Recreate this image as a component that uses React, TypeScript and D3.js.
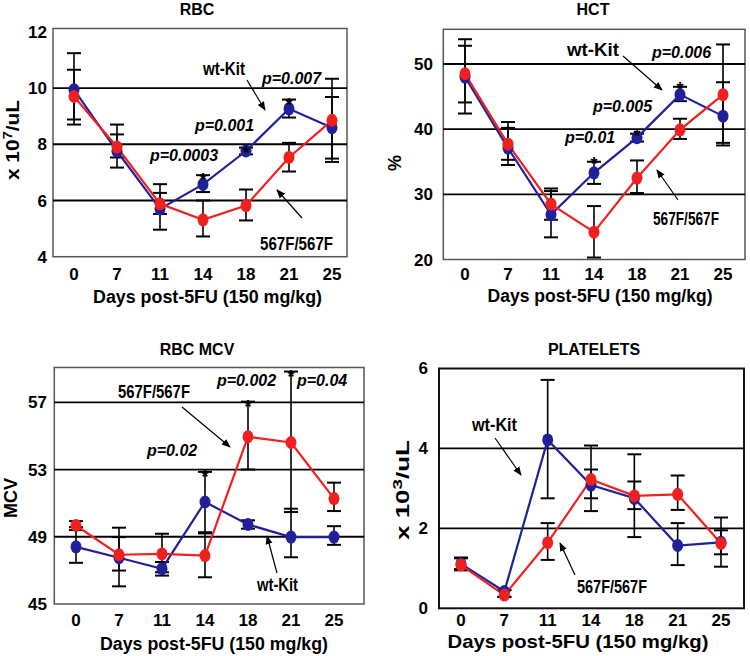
import React from "react";
import * as d3 from "d3";

// ---------- data ----------
const days = ["0", "7", "11", "14", "18", "21", "25"];

const rbcWt = [9.94, 7.75, 5.7, 6.57, 7.76, 9.26, 8.59];
const rbcWtHi = [11.24, 8.7, 6.58, 6.9, 7.88, 9.59, 9.68];
const rbcWtLo = [8.7, 7.17, 4.96, 6.3, 7.64, 8.95, 7.49];
const rbcMut = [9.7, 7.9, 5.88, 5.31, 5.82, 7.53, 8.85];
const rbcMutHi = [10.65, 8.35, 6.27, 6.0, 6.39, 8.05, 10.33];
const rbcMutLo = [8.88, 7.53, 5.52, 4.72, 5.29, 7.03, 7.37];

const hctWt = [48.0, 37.1, 26.9, 33.3, 38.7, 45.3, 42.0];
const hctWtHi = [53.8, 40.2, 30.5, 35.0, 39.3, 46.5, 47.2];
const hctWtLo = [42.4, 34.5, 23.4, 31.6, 38.1, 44.3, 37.5];
const hctMut = [48.5, 37.7, 28.5, 24.2, 32.5, 39.9, 45.3];
const hctMutHi = [52.8, 41.1, 30.9, 28.2, 35.2, 41.6, 53.0];
const hctMutLo = [44.1, 35.3, 26.1, 20.3, 30.2, 38.5, 37.9];

const mcvWt = [48.4, 47.75, 47.1, 51.07, 49.73, 48.98, 48.98];
const mcvWtHi = [49.57, 49.54, 47.5, 52.86, 49.98, 50.67, 49.63];
const mcvWtLo = [47.45, 46.05, 46.69, 49.27, 49.48, 47.78, 48.52];
const mcvMut = [49.67, 47.93, 47.98, 47.88, 54.95, 54.61, 51.27];
const mcvMutHi = [49.93, 48.98, 49.18, 49.2, 57.04, 58.83, 52.22];
const mcvMutLo = [49.4, 46.99, 46.89, 46.59, 53.0, 50.47, 50.53];

const pltWt = [1.11, 0.42, 4.21, 3.08, 2.75, 1.57, 1.65];
const pltWtHi = [1.27, 0.46, 5.71, 3.47, 3.85, 2.13, 1.95];
const pltWtLo = [0.98, 0.29, 2.75, 2.75, 1.78, 1.08, 1.35];
const pltMut = [1.08, 0.33, 1.64, 3.22, 2.81, 2.85, 1.62];
const pltMutHi = [1.25, 0.45, 2.13, 4.07, 3.17, 3.32, 2.27];
const pltMutLo = [0.95, 0.28, 1.21, 2.43, 2.48, 2.46, 1.04];

const rbcTicks = [4, 6, 8, 10, 12];
const hctTicks = [20, 30, 40, 50];
const mcvTicks = [45, 49, 53, 57];
const pltTicks = [0, 2, 4, 6];

const rbcGrid = [6, 8, 10];
const hctGrid = [30, 40, 50];
const mcvGrid = [49, 53, 57];
const pltGrid = [2, 4];

// significance markers: day index and p-value text
const rbcStars = [3, 4, 5];
const rbcP = ["p=0.0003", "p=0.001", "p=0.007"];
const hctStars = [3, 4, 5];
const hctP = ["p=0.01", "p=0.005", "p=0.006"];
const mcvStars = [3, 4, 5];
const mcvP = ["p=0.02", "p=0.002", "p=0.04"];

const seriesNames = ["wt-Kit", "567F/567F"];
const xLabel = "Days post-5FU (150 mg/kg)";

// ---------- styles ----------
const FONT = "'Liberation Sans', Arial, Helvetica, sans-serif";
const BLUE = "#20209a";
const RED = "#ee2020";

type Lbl = { text: string; x: number; y: number; w?: number };
type Arr = { x1: number; y1: number; x2: number; y2: number };

interface PanelCfg {
  title: string;
  titleX: number;
  titleY: number;
  box: [number, number, number, number];
  yDomain: [number, number];
  yRange: [number, number];
  xRange: [number, number];
  ticks: number[];
  grid: number[];
  tickX: number;
  xTickY: number;
  xLabelX: number;
  xLabelY: number;
  xLabelLen: number;
  xLabelSize: number;
  yLabel: React.ReactNode;
  yLabelX: number;
  yLabelY: number;
  yLabelLen: number;
  yLabelSize: number;
  boxStroke: string;
  boxWidth: number;
  wt: number[];
  wtHi: number[];
  wtLo: number[];
  mut: number[];
  mutHi: number[];
  mutLo: number[];
  stars: number[];
  starOff: number;
  pvals: Lbl[];
  labels: Lbl[];
  arrows: Arr[];
}

const panels: PanelCfg[] = [
  {
    title: "RBC",
    titleX: 197,
    titleY: 15,
    box: [53, 28.5, 347, 256.7],
    yDomain: [4, 12],
    yRange: [256.7, 31.8],
    xRange: [74, 332],
    ticks: rbcTicks,
    grid: rbcGrid,
    tickX: 47,
    xTickY: 280,
    xLabelX: 207.5,
    xLabelY: 303,
    xLabelLen: 229,
    xLabelSize: 18,
    yLabel: (
      <>
        <tspan>x 10</tspan>
        <tspan dy={-7} fontSize={13}>7</tspan>
        <tspan dy={7}>/uL</tspan>
      </>
    ),
    yLabelX: 19,
    yLabelY: 140,
    yLabelLen: 80,
    yLabelSize: 18,
    boxStroke: "#555",
    boxWidth: 1.5,
    wt: rbcWt,
    wtHi: rbcWtHi,
    wtLo: rbcWtLo,
    mut: rbcMut,
    mutHi: rbcMutHi,
    mutLo: rbcMutLo,
    stars: rbcStars,
    starOff: 2,
    pvals: [
      { text: rbcP[0], x: 150, y: 161 },
      { text: rbcP[1], x: 195, y: 131 },
      { text: rbcP[2], x: 262, y: 84 },
    ],
    labels: [
      { text: seriesNames[0], x: 203, y: 75, w: 42 },
      { text: seriesNames[1], x: 260, y: 250, w: 73 },
    ],
    arrows: [
      { x1: 247, y1: 80, x2: 265, y2: 110 },
      { x1: 302, y1: 218, x2: 277, y2: 190 },
    ],
  },
  {
    title: "HCT",
    titleX: 593,
    titleY: 15,
    box: [443.3, 29.3, 745, 259.5],
    yDomain: [20, 50],
    yRange: [259.5, 64],
    xRange: [465, 723],
    ticks: hctTicks,
    grid: hctGrid,
    tickX: 433,
    xTickY: 280,
    xLabelX: 600,
    xLabelY: 302,
    xLabelLen: 225,
    xLabelSize: 18,
    yLabel: <tspan>%</tspan>,
    yLabelX: 401,
    yLabelY: 163,
    yLabelLen: 0,
    yLabelSize: 18,
    boxStroke: "#555",
    boxWidth: 1.5,
    wt: hctWt,
    wtHi: hctWtHi,
    wtLo: hctWtLo,
    mut: hctMut,
    mutHi: hctMutHi,
    mutLo: hctMutLo,
    stars: hctStars,
    starOff: -1,
    pvals: [
      { text: hctP[0], x: 565, y: 143 },
      { text: hctP[1], x: 593, y: 112 },
      { text: hctP[2], x: 652, y: 58 },
    ],
    labels: [
      { text: seriesNames[0], x: 567, y: 56, w: 52 },
      { text: seriesNames[1], x: 653, y: 225, w: 66 },
    ],
    arrows: [
      { x1: 623, y1: 56, x2: 662, y2: 90 },
      { x1: 678, y1: 200, x2: 657, y2: 170 },
    ],
  },
  {
    title: "RBC MCV",
    titleX: 197,
    titleY: 355,
    box: [54.3, 367.5, 364, 604],
    yDomain: [45, 57],
    yRange: [604, 402.3],
    xRange: [76, 334],
    ticks: mcvTicks,
    grid: mcvGrid,
    tickX: 47,
    xTickY: 626,
    xLabelX: 214,
    xLabelY: 650,
    xLabelLen: 228,
    xLabelSize: 18,
    yLabel: <tspan>MCV</tspan>,
    yLabelX: 17,
    yLabelY: 498,
    yLabelLen: 40,
    yLabelSize: 18,
    boxStroke: "#555",
    boxWidth: 1.5,
    wt: mcvWt,
    wtHi: mcvWtHi,
    wtLo: mcvWtLo,
    mut: mcvMut,
    mutHi: mcvMutHi,
    mutLo: mcvMutLo,
    stars: mcvStars,
    starOff: 2.5,
    pvals: [
      { text: mcvP[0], x: 147, y: 456 },
      { text: mcvP[1], x: 217, y: 386 },
      { text: mcvP[2], x: 297, y: 386 },
    ],
    labels: [
      { text: seriesNames[1], x: 118, y: 398, w: 72 },
      { text: seriesNames[0], x: 257, y: 591, w: 41 },
    ],
    arrows: [
      { x1: 182, y1: 407, x2: 230, y2: 447 },
      { x1: 277, y1: 573, x2: 267, y2: 536 },
    ],
  },
  {
    title: "PLATELETS",
    titleX: 594,
    titleY: 355,
    box: [439, 368.5, 744, 608.3],
    yDomain: [0, 6],
    yRange: [608.3, 368.3],
    xRange: [461, 721],
    ticks: pltTicks,
    grid: pltGrid,
    tickX: 428,
    xTickY: 626,
    xLabelX: 578,
    xLabelY: 648,
    xLabelLen: 261,
    xLabelSize: 19,
    yLabel: (
      <>
        <tspan>x 10</tspan>
        <tspan dy={-7} fontSize={13}>3</tspan>
        <tspan dy={7}>/uL</tspan>
      </>
    ),
    yLabelX: 408.5,
    yLabelY: 490,
    yLabelLen: 100,
    yLabelSize: 18,
    boxStroke: "#111",
    boxWidth: 2,
    wt: pltWt,
    wtHi: pltWtHi,
    wtLo: pltWtLo,
    mut: pltMut,
    mutHi: pltMutHi,
    mutLo: pltMutLo,
    stars: [],
    starOff: 0,
    pvals: [],
    labels: [
      { text: seriesNames[0], x: 472, y: 431, w: 45 },
      { text: seriesNames[1], x: 577, y: 593, w: 70 },
    ],
    arrows: [
      { x1: 495, y1: 438, x2: 521, y2: 475 },
      { x1: 575, y1: 575, x2: 560, y2: 543 },
    ],
  },
];

function Panel({ cfg, idx }: { cfg: PanelCfg; idx: number }) {
  const x = d3.scalePoint<string>().domain(days).range(cfg.xRange);
  const y = d3.scaleLinear().domain(cfg.yDomain).range(cfg.yRange);
  const [bx0, by0, bx1, by1] = cfg.box;
  const line = d3
    .line<number>()
    .x((_, i) => x(days[i]) as number)
    .y((d) => y(d));
  const cap = 7;

  const errBars = (hi: number[], lo: number[], key: string) =>
    days.map((dd, i) => {
      const cx = x(dd) as number;
      return (
        <g key={key + i} stroke="#000" strokeWidth={1.6}>
          <line x1={cx} x2={cx} y1={y(hi[i])} y2={y(lo[i])} />
          <line x1={cx - cap} x2={cx + cap} y1={y(hi[i])} y2={y(hi[i])} strokeWidth={2} />
          <line x1={cx - cap} x2={cx + cap} y1={y(lo[i])} y2={y(lo[i])} strokeWidth={2} />
        </g>
      );
    });

  const dots = (vals: number[], color: string, key: string) =>
    vals.map((v, i) => (
      <ellipse key={key + i} cx={x(days[i]) as number} cy={y(v)} rx={5.5} ry={6.5} fill={color} />
    ));

  return (
    <g>
      <rect x={bx0} y={by0} width={bx1 - bx0} height={by1 - by0} fill="#fff" stroke={cfg.boxStroke} strokeWidth={cfg.boxWidth} />
      {cfg.grid.map((g) => (
        <line key={"g" + g} x1={bx0} x2={bx1} y1={y(g)} y2={y(g)} stroke="#000" strokeWidth={1.8} />
      ))}
      {/* title */}
      <text x={cfg.titleX} y={cfg.titleY} textAnchor="middle" fontSize={16} fontWeight="bold">
        {cfg.title}
      </text>
      {/* y ticks */}
      {cfg.ticks.map((t) => (
        <text key={"t" + t} x={cfg.tickX} y={y(t)} dy="0.36em" textAnchor="end" fontSize={17} fontWeight="bold">
          {t}
        </text>
      ))}
      {/* x ticks */}
      {days.map((dd) => (
        <text key={"x" + dd} x={x(dd) as number} y={cfg.xTickY} textAnchor="middle" fontSize={17} fontWeight="bold">
          {dd}
        </text>
      ))}
      <text
        x={cfg.xLabelX}
        y={cfg.xLabelY}
        textAnchor="middle"
        fontSize={cfg.xLabelSize}
        fontWeight="bold"
        textLength={cfg.xLabelLen}
        lengthAdjust="spacingAndGlyphs"
      >
        {xLabel}
      </text>
      <text
        transform={`translate(${cfg.yLabelX},${cfg.yLabelY}) rotate(-90)`}
        textAnchor="middle"
        fontSize={cfg.yLabelSize}
        fontWeight="bold"
        {...(cfg.yLabelLen ? { textLength: cfg.yLabelLen, lengthAdjust: "spacingAndGlyphs" } : {})}
      >
        {cfg.yLabel}
      </text>
      {/* error bars */}
      {errBars(cfg.wtHi, cfg.wtLo, "ew")}
      {errBars(cfg.mutHi, cfg.mutLo, "em")}
      {/* lines */}
      <path d={line(cfg.wt) || ""} fill="none" stroke={BLUE} strokeWidth={2.2} />
      <path d={line(cfg.mut) || ""} fill="none" stroke={RED} strokeWidth={2.2} />
      {dots(cfg.wt, BLUE, "dw")}
      {dots(cfg.mut, RED, "dm")}
      {/* stars */}
      {cfg.stars.map((si) => {
        const top = Math.max(cfg.wtHi[si], cfg.mutHi[si]);
        return (
          <text key={"s" + si} x={x(days[si]) as number} y={y(top) + cfg.starOff + 9} textAnchor="middle" fontSize={18} fontWeight="bold">
            *
          </text>
        );
      })}
      {cfg.pvals.map((p, i) => (
        <text key={"p" + i} x={p.x} y={p.y} fontSize={16} fontWeight="bold" fontStyle="italic">
          {p.text}
        </text>
      ))}
      {cfg.labels.map((l, i) => (
        <text key={"l" + i} x={l.x} y={l.y} fontSize={17.5} fontWeight="bold" textLength={l.w} lengthAdjust="spacingAndGlyphs">
          {l.text}
        </text>
      ))}
      {cfg.arrows.map((a, i) => (
        <line key={"a" + i} x1={a.x1} y1={a.y1} x2={a.x2} y2={a.y2} stroke="#000" strokeWidth={1.2} markerEnd={`url(#arrow${idx})`} />
      ))}
      <defs>
        <marker id={`arrow${idx}`} viewBox="0 0 10 10" refX="9" refY="5" markerWidth="9" markerHeight="9" markerUnits="userSpaceOnUse" orient="auto">
          <path d="M0,1 L10,5 L0,9 z" fill="#000" />
        </marker>
      </defs>
    </g>
  );
}

export default function App() {
  return (
    <svg
      width={750}
      height={656}
      viewBox="0 0 750 656"
      style={{ position: "absolute", left: 0, top: 0, background: "#fff" }}
      fontFamily={FONT}
    >
      <rect width={750} height={656} fill="#fff" />
      {panels.map((p, i) => (
        <Panel key={p.title} cfg={p} idx={i} />
      ))}
    </svg>
  );
}
